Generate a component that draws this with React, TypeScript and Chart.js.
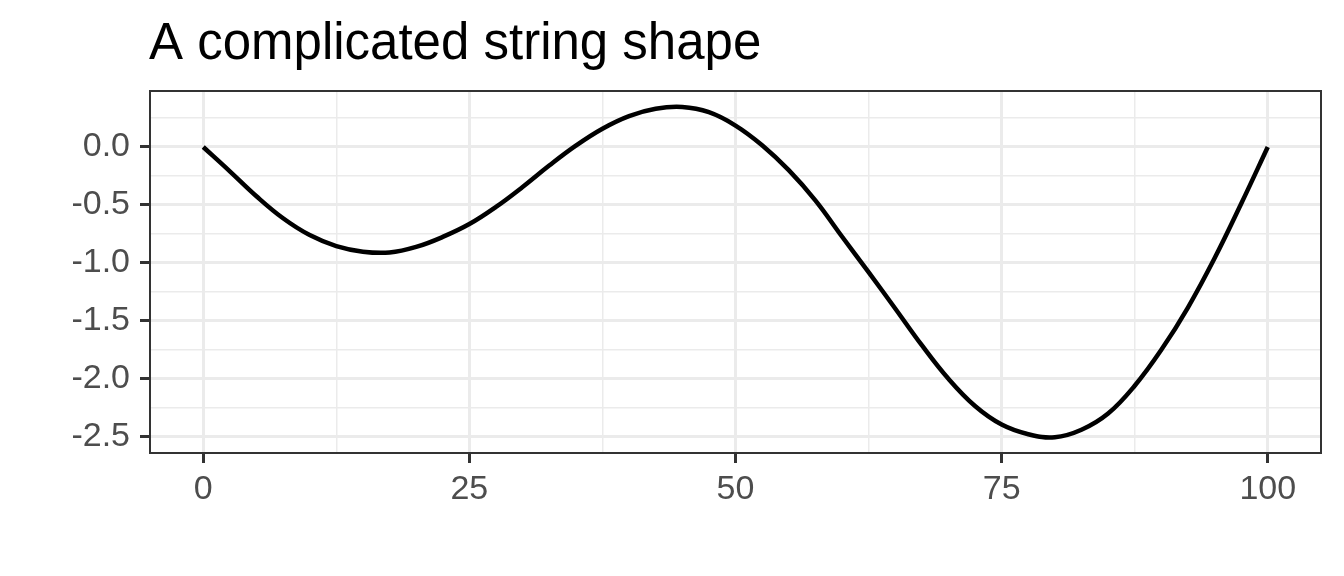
import React, { useEffect, useRef } from "react";
import { Chart, registerables } from "chart.js";

Chart.register(...registerables);

const TITLE = "A complicated string shape";

const xValues = [
  0, 2.5, 5, 7.5, 10, 12.5, 15, 17.5, 20, 22.5, 25, 27.5, 30, 32.5, 35, 37.5, 40,
  42.5, 45, 47.5, 50, 52.5, 55, 57.5, 60, 62.5, 65, 67.5, 70, 72.5, 75, 77.5, 80,
  82.5, 85, 87.5, 90, 92.5, 95, 97.5, 100,
];
const yValues = [
  0, -0.21, -0.425, -0.615, -0.76, -0.855, -0.903, -0.91, -0.862, -0.776, -0.665,
  -0.517, -0.345, -0.16, 0.012, 0.158, 0.267, 0.33, 0.345, 0.3, 0.185, 0.015,
  -0.2, -0.46, -0.772, -1.08, -1.393, -1.71, -2.0, -2.235, -2.395, -2.478, -2.505,
  -2.44, -2.3, -2.06, -1.75, -1.385, -0.96, -0.49, 0,
];

const xTicks = [0, 12.5, 25, 37.5, 50, 62.5, 75, 87.5, 100];
const xMajor = [0, 25, 50, 75, 100];
const yTicks = [-2.5, -2.25, -2, -1.75, -1.5, -1.25, -1, -0.75, -0.5, -0.25, 0, 0.25];
const yMajor = [-2.5, -2, -1.5, -1, -0.5, 0];

const X_MIN = -5;
const X_MAX = 105;
const Y_MIN = -2.64;
const Y_MAX = 0.483;

const FONT = '"Liberation Sans", Arial, Helvetica, sans-serif';

const isMajorX = (v: number) => xMajor.some((m) => Math.abs(m - v) < 1e-6);
const isMajorY = (v: number) => yMajor.some((m) => Math.abs(m - v) < 1e-6);

const ggPlugin = {
  id: "ggDecor",
  afterDraw(chart: any) {
    const { ctx, chartArea } = chart;
    ctx.save();
    ctx.strokeStyle = "#333333";
    ctx.lineWidth = 2;
    ctx.strokeRect(
      chartArea.left,
      chartArea.top,
      chartArea.right - chartArea.left,
      chartArea.bottom - chartArea.top
    );
    ctx.font = `51px ${FONT}`;
    ctx.fillStyle = "#000000";
    ctx.textAlign = "left";
    ctx.textBaseline = "alphabetic";
    ctx.fillText(TITLE, chartArea.left - 1, 59);
    ctx.restore();
  },
};

export default function App() {
  const canvasRef = useRef<HTMLCanvasElement | null>(null);

  useEffect(() => {
    if (!canvasRef.current) return;
    const data = xValues.map((x, i) => ({ x, y: yValues[i] }));
    const chart = new Chart(canvasRef.current, {
      type: "line",
      data: {
        datasets: [
          {
            data,
            borderColor: "#000000",
            borderWidth: 4.5,
            pointRadius: 0,
            fill: false,
            tension: 0.4,
            borderCapStyle: "butt",
            borderJoinStyle: "round",
          },
        ],
      },
      options: {
        animation: false,
        responsive: false,
        devicePixelRatio: 1,
        layout: { padding: { top: 91, right: 23, bottom: 0, left: 0 } },
        plugins: {
          legend: { display: false },
          tooltip: { enabled: false },
          title: { display: false },
        },
        scales: {
          x: {
            type: "linear",
            min: X_MIN,
            max: X_MAX,
            afterBuildTicks: (scale: any) => {
              scale.ticks = xTicks.map((v) => ({ value: v }));
            },
            afterFit: (scale: any) => {
              scale.height = 123;
            },
            border: { display: false },
            grid: {
              color: "#EBEBEB",
              lineWidth: (c: any) => (c.tick && isMajorX(c.tick.value) ? 3 : 1.5),
              tickColor: (c: any) =>
                c.tick && isMajorX(c.tick.value) ? "#333333" : "rgba(0,0,0,0)",
              tickWidth: 3,
              tickLength: 10,
              drawTicks: true,
            },
            ticks: {
              autoSkip: false,
              maxRotation: 0,
              padding: 6,
              color: "#4D4D4D",
              font: { family: FONT, size: 34 },
              callback: (v: any) => (isMajorX(Number(v)) ? String(v) : ""),
            },
          },
          y: {
            type: "linear",
            min: Y_MIN,
            max: Y_MAX,
            afterBuildTicks: (scale: any) => {
              scale.ticks = yTicks.map((v) => ({ value: v }));
            },
            afterFit: (scale: any) => {
              scale.width = 150;
            },
            border: { display: false },
            grid: {
              color: "#EBEBEB",
              lineWidth: (c: any) => (c.tick && isMajorY(c.tick.value) ? 3 : 1.5),
              tickColor: (c: any) =>
                c.tick && isMajorY(c.tick.value) ? "#333333" : "rgba(0,0,0,0)",
              tickWidth: 3,
              tickLength: 10,
              drawTicks: true,
            },
            ticks: {
              autoSkip: false,
              padding: 10,
              color: "#4D4D4D",
              font: { family: FONT, size: 34 },
              callback: (v: any) => (isMajorY(Number(v)) ? Number(v).toFixed(1) : ""),
            },
          },
        },
      },
      plugins: [ggPlugin],
    });
    return () => chart.destroy();
  }, []);

  return (
    <div
      style={{
        position: "fixed",
        left: 0,
        top: 0,
        width: 1344,
        height: 576,
        background: "#ffffff",
      }}
    >
      <canvas
        ref={canvasRef}
        width={1344}
        height={576}
        style={{ width: 1344, height: 576, display: "block" }}
      />
    </div>
  );
}
